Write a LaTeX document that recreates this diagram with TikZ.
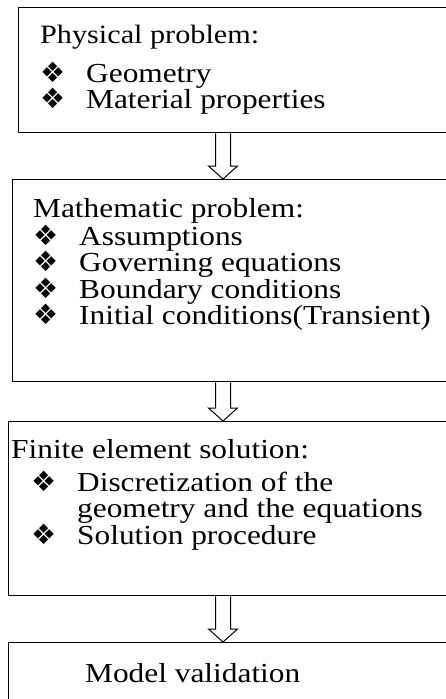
\documentclass[tikz,border=0pt]{standalone}
\usepackage{fontspec}
\setmainfont[FakeStretch=1.14]{Liberation Serif}
\newfontfamily\dingfont{DejaVu Sans}
\usetikzlibrary{positioning,calc}

% text of the stages
\newcommand{\stagefont}{\fontsize{27.5}{26.5}\selectfont\lineskiplimit=-20pt\relax}
% bullet used in every list
\newcommand{\bul}{\makebox[46pt][l]{\dingfont\fontsize{28}{28}\selectfont ❖}}

% hollow block arrow from one stage to the next
\newcommand{\flowarrow}[2]{%
  \draw[hollow] let \p1=(#1), \p2=(#2) in
    (\x1-7.5pt,\y1) -- (\x1-7.5pt,\y2+13pt) -- (\x1-14.5pt,\y2+13pt) -- (\x2,\y2)
    -- (\x1+14.5pt,\y2+13pt) -- (\x1+7.5pt,\y2+13pt) -- (\x1+7.5pt,\y1);}

\tikzset{
  stage/.style={draw, line width=1.3pt, anchor=north west, minimum width=480pt, inner sep=0pt},
  stagetext/.style={align=left, inner sep=0pt, font=\stagefont},
  hollow/.style={line width=1pt, line join=miter},
}

\begin{document}
\begin{tikzpicture}[x=1pt, y=-1pt]
    \useasboundingbox (0,0) rectangle (446,699);

    % Cajas de las etapas
    \node[stage, minimum height=125pt] (phys)  at (18,7)   {};
    \node[stage, minimum height=202pt] (math)  at (12,179) {};
    \node[stage, minimum height=174pt] (fem)   at (8,421)  {};
    \node[stage, minimum height=100pt] (valid) at (8,642)  {};

    % Textos de las etapas
    \node[stagetext, below right=18pt and 22pt of phys.north west] (physT)
      {{\fontsize{26.5}{26.5}\selectfont Physical problem:}\\[12pt]
       \bul Geometry\\
       \bul Material properties};
    \node[stagetext, below right=19.5pt and 21pt of math.north west] (mathT)
      {Mathematic problem:\\[1pt]
       \bul Assumptions\\
       \bul Governing equations\\
       \bul Boundary conditions\\
       \bul Initial conditions(Transient)};
    \node[stagetext, below right=18.5pt and 3pt of fem.north west] (femT)
      {Finite element solution:\\[6pt]
       \hspace*{20pt}\bul Discretization of the\\
       \hspace*{66pt}geometry and the equations\\
       \hspace*{20pt}\bul Solution procedure};
    \node[stagetext, below right=21pt and 77pt of valid.north west] (validT)
      {Model validation};

    % Flechas huecas entre etapas
    \coordinate (ax) at (223,0);
    \flowarrow{phys.south -| ax}{math.north -| ax}
    \flowarrow{math.south -| ax}{fem.north -| ax}
    \flowarrow{fem.south -| ax}{valid.north -| ax}
\end{tikzpicture}
\end{document}
